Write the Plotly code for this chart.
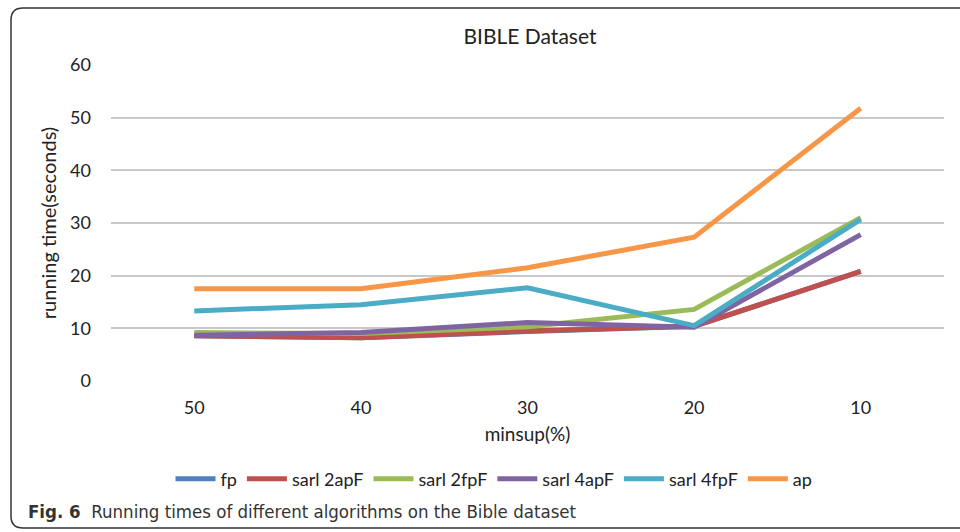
import plotly.graph_objects as go

categories = ["50", "40", "30", "20", "10"]
fp = [8.6, 8.2, 9.4, 10.4, 20.8]
sarl_2apF = [8.6, 8.2, 9.5, 10.4, 20.8]
sarl_2fpF = [9.2, 9.0, 10.3, 13.6, 31.0]
sarl_4apF = [8.7, 9.2, 11.1, 10.2, 27.8]
sarl_4fpF = [13.3, 14.5, 17.7, 10.5, 30.7]
ap = [17.5, 17.5, 21.5, 27.3, 51.8]

series = [
    ("fp", fp, "#4F81BD"),
    ("sarl 2apF", sarl_2apF, "#C0504D"),
    ("sarl 2fpF", sarl_2fpF, "#9BBB59"),
    ("sarl 4apF", sarl_4apF, "#8064A2"),
    ("sarl 4fpF", sarl_4fpF, "#4BACC6"),
    ("ap", ap, "#F79646"),
]

FONT = "Lato, Carlito, 'Open Sans', sans-serif"

fig = go.Figure()
for name, vals, col in series:
    fig.add_trace(go.Scatter(x=categories, y=vals, name=name, mode="lines",
                             line=dict(color=col, width=5)))

W, H = 960, 532
L, R, T, B = 111, 16, 65, 151
pw, ph = W - L - R, H - T - B

def px(x):
    return (x - L) / pw

def py(y):
    return (H - B - y) / ph

# frame with rounded left corners
r = 12
x0, y0, y1, x1 = 11, 8, 528, 975
path = (f"M {px(x1)},{py(y0)} L {px(x0 + r)},{py(y0)} "
        f"Q {px(x0)},{py(y0)} {px(x0)},{py(y0 + r)} "
        f"L {px(x0)},{py(y1 - r)} "
        f"Q {px(x0)},{py(y1)} {px(x0 + r)},{py(y1)} "
        f"L {px(x1)},{py(y1)}")

fig.update_layout(
    width=W, height=H,
    margin=dict(l=L, r=R, t=T, b=B),
    paper_bgcolor="white", plot_bgcolor="white",
    font=dict(family=FONT, size=18, color="#222"),
    title=dict(text="BIBLE Dataset", x=px(530), xref="paper", xanchor="center",
               y=1 - 37 / H, yanchor="middle", font=dict(size=21, family=FONT, color="#222")),
    xaxis=dict(showgrid=False, zeroline=False, showline=False, ticks="",
               range=[-0.5, 4.5], ticklabelstandoff=14,
               tickfont=dict(size=18), title=dict(text="minsup(%)", font=dict(size=19), standoff=10)),
    yaxis=dict(range=[0, 60], dtick=10, showgrid=True, gridcolor="#C8C8C8", gridwidth=1.5,
               zeroline=False, showline=False, ticks="", tickfont=dict(size=18),
               ticklabelstandoff=19,
               title=dict(text="running time(seconds)", font=dict(size=20), standoff=8)),
    legend=dict(orientation="h", x=px(494), xanchor="center", y=py(479), yanchor="middle",
                font=dict(size=18), itemwidth=40, bgcolor="rgba(0,0,0,0)"),
    shapes=[dict(type="path", path=path, xref="paper", yref="paper",
                 line=dict(color="#333", width=1.5))],
    annotations=[dict(text="<b>Fig. 6</b>  Running times of different algorithms on the Bible dataset",
                      x=px(26), y=py(511), xref="paper", yref="paper", xanchor="left", yanchor="middle",
                      showarrow=False,
                      font=dict(family="'Liberation Sans Narrow', 'DejaVu Sans Condensed', sans-serif",
                                size=18.5, color="#333"))],
)

fig.write_html("out.html")
